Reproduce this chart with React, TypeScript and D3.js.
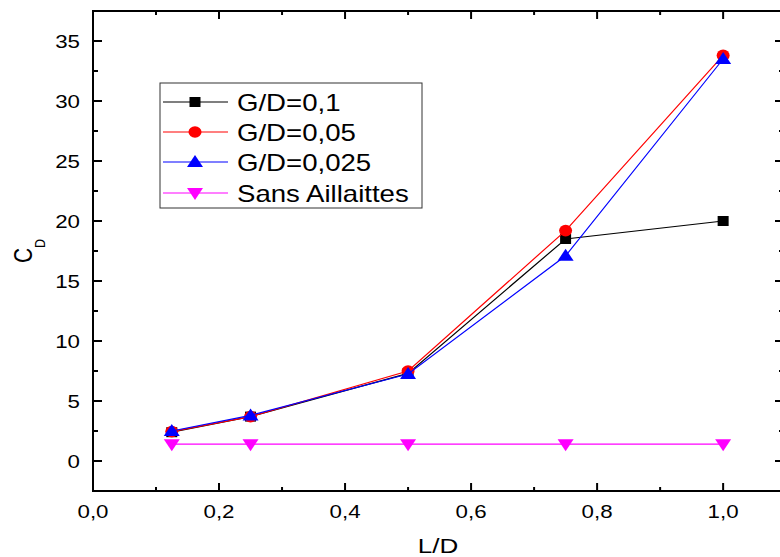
import React from "react";
import * as d3 from "d3";

const ldValues = [0.125, 0.25, 0.5, 0.75, 1.0];
const gd01 = [2.4, 3.7, 7.3, 18.5, 20.0];
const gd005 = [2.45, 3.7, 7.5, 19.2, 33.8];
const gd0025 = [2.5, 3.8, 7.25, 17.1, 33.5];
const sansAillaittes = [1.4, 1.4, 1.4, 1.4, 1.4];

const seriesNames = ["G/D=0,1", "G/D=0,05", "G/D=0,025", "Sans Aillaittes"];
const seriesColors = ["#000000", "#ff0000", "#0000ff", "#ff00ff"];
const seriesShapes = ["square", "circle", "triangleUp", "triangleDown"];

const xMajorTicks = [0, 0.2, 0.4, 0.6, 0.8, 1.0];
const xMinorTicks = [0.1, 0.3, 0.5, 0.7, 0.9];
const yMajorTicks = [0, 5, 10, 15, 20, 25, 30, 35];
const yMinorTicks = [2.5, 7.5, 12.5, 17.5, 22.5, 27.5, 32.5];

const W = 780;
const H = 557;
const FONT = "'Liberation Sans', Arial, sans-serif";
const STRETCH = 1.24;

const fmt = (v: number) => v.toFixed(1).replace(".", ",");

function markerPath(shape: string): string {
  switch (shape) {
    case "square":
      return "M-5.5,-5 L5.5,-5 L5.5,5 L-5.5,5 Z";
    case "circle":
      return "M-6.5,0 A6.5,5.8 0 1,0 6.5,0 A6.5,5.8 0 1,0 -6.5,0 Z";
    case "triangleUp":
      return "M0,-7 L8,5 L-8,5 Z";
    case "triangleDown":
      return "M-8,-5 L8,-5 L0,7 Z";
  }
  return "";
}

export default function App() {
  const x = d3.scaleLinear().domain([0, 1.095]).range([93, 783]);
  const y = d3.scaleLinear().domain([-2.5, 37.5]).range([491, 11]);
  const left = x(0);
  const right = x(1.095);
  const top = y(37.5);
  const bottom = y(-2.5);

  const allSeries = [gd01, gd005, gd0025, sansAillaittes];
  const line = d3
    .line<number>()
    .x((_, i) => x(ldValues[i]))
    .y((d) => y(d));

  const legendX = 160;
  const legendY = 83;
  const legendW = 262;
  const legendH = 125;
  const rowY = [102, 132, 162, 193];

  return (
    <svg
      width={W}
      height={H}
      style={{ position: "absolute", left: 0, top: 0, background: "#fff" }}
      fontFamily={FONT}
    >
      <rect x={0} y={0} width={W} height={H} fill="#fff" />
      {/* series */}
      {allSeries.map((s, si) => (
        <g key={si}>
          <path d={line(s) || ""} fill="none" stroke={seriesColors[si]} strokeWidth={1.2} />
          {s.map((v, i) => (
            <path
              key={i}
              d={markerPath(seriesShapes[si])}
              transform={`translate(${x(ldValues[i])},${y(v)})`}
              fill={seriesColors[si]}
            />
          ))}
        </g>
      ))}

      {/* frame */}
      <rect x={left} y={top} width={right - left} height={bottom - top} fill="none" stroke="#000" strokeWidth={2} />

      {/* x ticks */}
      {xMajorTicks.map((t) => (
        <g key={"xm" + t}>
          <line x1={x(t)} x2={x(t)} y1={bottom} y2={bottom - 8} stroke="#000" strokeWidth={2} />
          <line x1={x(t)} x2={x(t)} y1={top} y2={top + 8} stroke="#000" strokeWidth={2} />
          <text
            transform={`translate(${x(t)},518) scale(${STRETCH},1)`}
            textAnchor="middle"
            fontSize={18}
            fill="#000"
          >
            {fmt(t)}
          </text>
        </g>
      ))}
      {xMinorTicks.map((t) => (
        <g key={"xn" + t}>
          <line x1={x(t)} x2={x(t)} y1={bottom} y2={bottom - 4} stroke="#000" strokeWidth={2} />
          <line x1={x(t)} x2={x(t)} y1={top} y2={top + 4} stroke="#000" strokeWidth={2} />
        </g>
      ))}

      {/* y ticks */}
      {yMajorTicks.map((t) => (
        <g key={"ym" + t}>
          <line x1={left} x2={left + 9} y1={y(t)} y2={y(t)} stroke="#000" strokeWidth={2} />
          <line x1={right} x2={right - 8} y1={y(t)} y2={y(t)} stroke="#000" strokeWidth={2} />
          <text
            transform={`translate(80,${y(t) + 6.5}) scale(${STRETCH},1)`}
            textAnchor="end"
            fontSize={18}
            fill="#000"
          >
            {t}
          </text>
        </g>
      ))}
      {yMinorTicks.map((t) => (
        <g key={"yn" + t}>
          <line x1={left} x2={left + 5} y1={y(t)} y2={y(t)} stroke="#000" strokeWidth={2} />
          <line x1={right} x2={right - 4} y1={y(t)} y2={y(t)} stroke="#000" strokeWidth={2} />
        </g>
      ))}

      {/* axis titles */}
      <text
        transform={`translate(438,553) scale(${STRETCH},1)`}
        textAnchor="middle"
        fontSize={21}
        fill="#000"
      >
        L/D
      </text>
      <text
        transform={`translate(32,251) scale(${STRETCH},1) rotate(-90)`}
        textAnchor="middle"
        fontSize={21}
        fill="#000"
      >
        C
        <tspan fontSize={12.5} dy={10.5}>
          D
        </tspan>
      </text>

      {/* legend */}
      <rect x={legendX} y={legendY} width={legendW} height={legendH} fill="#fff" stroke="#333" strokeWidth={1} />
      {seriesNames.map((name, i) => (
        <g key={name}>
          <line x1={163} x2={228} y1={rowY[i]} y2={rowY[i]} stroke={seriesColors[i]} strokeWidth={1.2} />
          <path d={markerPath(seriesShapes[i])} transform={`translate(195,${rowY[i]})`} fill={seriesColors[i]} />
          <text
            transform={`translate(237,${rowY[i] + 8.5}) scale(1.2,1)`}
            fontSize={23}
            fill="#000"
          >
            {name}
          </text>
        </g>
      ))}
    </svg>
  );
}
